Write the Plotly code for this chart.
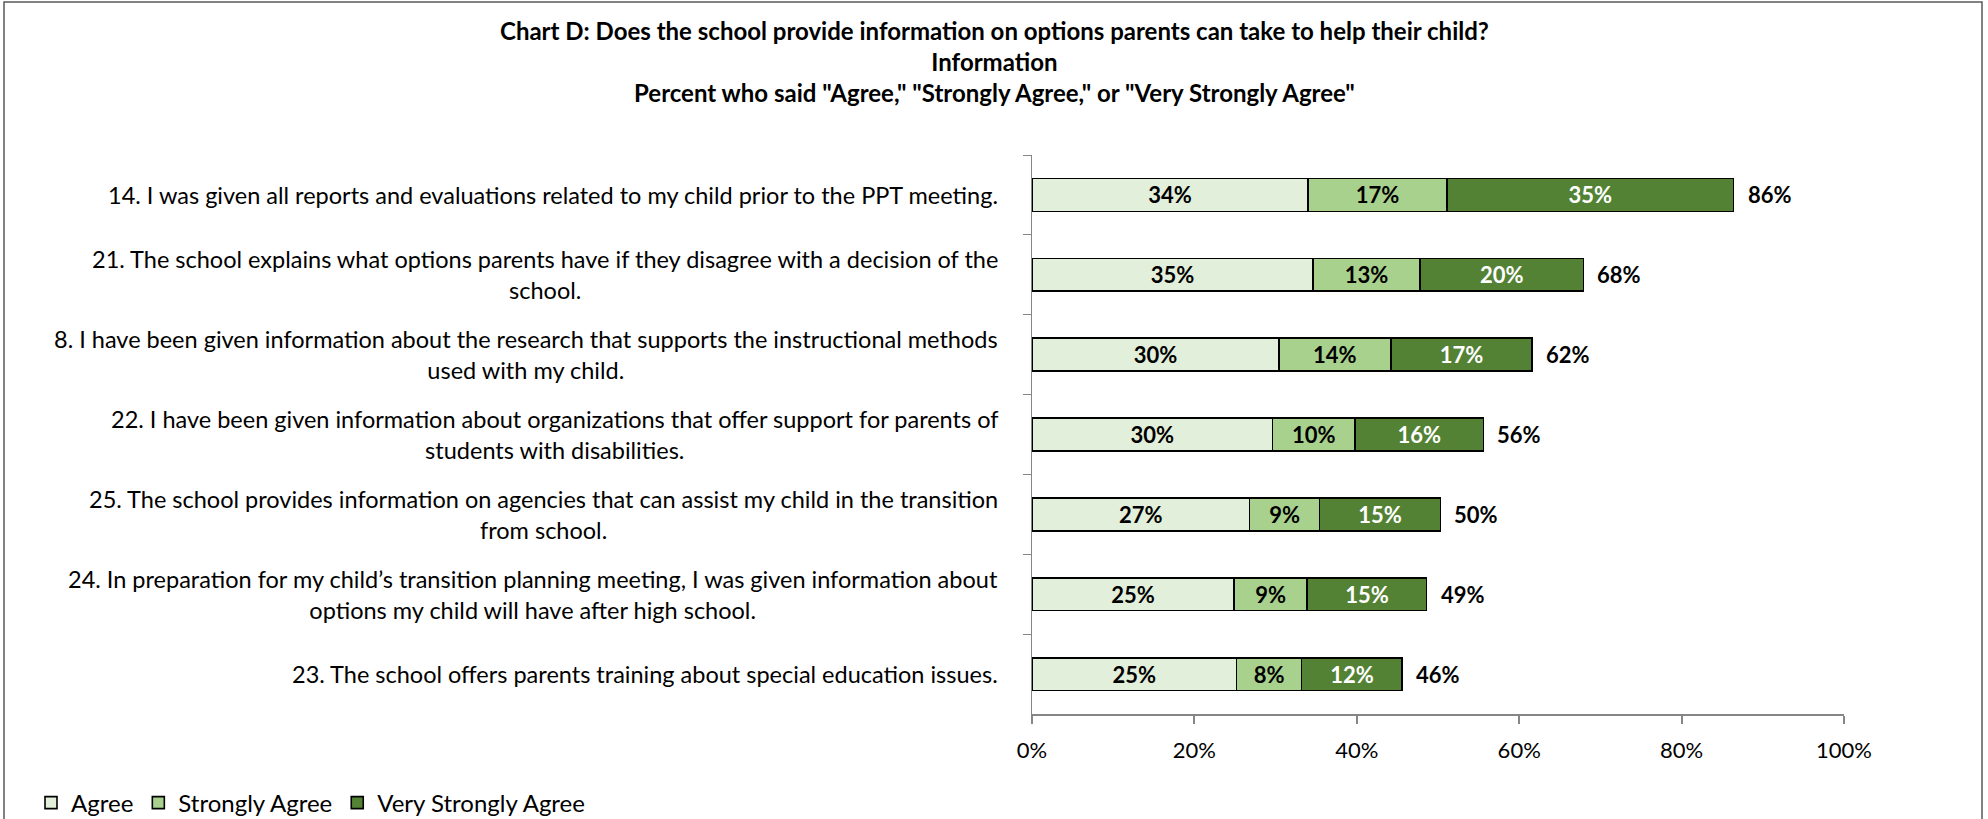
import plotly.graph_objects as go

# ---- data ----
categories = [
    "14. I was given all reports and evaluations related to my child prior to the PPT meeting.",
    "21. The school explains what options parents have if they disagree with a decision of the<br>school.",
    "8. I have been given information about the research that supports the instructional methods<br>used with my child.",
    "22. I have been given information about organizations that offer support for parents of<br>students with disabilities.",
    "25. The school provides information on agencies that can assist my child in the transition<br>from school.",
    "24. In preparation for my child\u2019s transition planning meeting, I was given information about<br>options my child will have after high school.",
    "23. The school offers parents training about special education issues.",
]
agree = [0.340, 0.346, 0.304, 0.296, 0.268, 0.249, 0.252]
strongly_agree = [0.171, 0.132, 0.138, 0.102, 0.086, 0.090, 0.080]
very_strongly_agree = [0.353, 0.201, 0.174, 0.158, 0.149, 0.147, 0.124]
series_names = ["Agree", "Strongly Agree", "Very Strongly Agree"]
colors = ["#E2EFDA", "#A9D18E", "#548235"]
text_colors = ["#000000", "#000000", "#FFFFFF"]
x_ticks = [0, 0.2, 0.4, 0.6, 0.8, 1.0]
title_lines = [
    "Chart D: Does the school provide information on options parents can take to help their child?",
    "Information",
    "Percent who said \"Agree,\" \"Strongly Agree,\" or \"Very Strongly Agree\"",
]

totals = [a + b + c for a, b, c in zip(agree, strongly_agree, very_strongly_agree)]

# ---- layout constants ----
W, H = 1988, 819
L, R, T, B = 1032, 144, 155, 105
FONT = "Lato, Arial, sans-serif"
FS = 22
pw = W - L - R
ph = H - T - B


def px_to_paper_x(px):
    return (px - L) / pw


def px_to_paper_y(py):
    return (H - B - py) / ph


fig = go.Figure()
for name, vals, col, tcol in zip(series_names, [agree, strongly_agree, very_strongly_agree], colors, text_colors):
    fig.add_trace(go.Bar(
        name=name, y=categories, x=vals, orientation="h",
        marker=dict(color=col, line=dict(color="#000000", width=1.6)),
        texttemplate="%{x:.0%}", textposition="inside", insidetextanchor="middle",
        textangle=0, constraintext="none",
        textfont=dict(family=FONT, size=FS, color=tcol, weight="bold"),
        hoverinfo="skip",
    ))

annotations = []
for cat, tot in zip(categories, totals):
    annotations.append(dict(
        x=tot, y=cat, xref="x", yref="y", text=f"{round(tot * 100):d}%",
        showarrow=False, xanchor="left", xshift=12,
        font=dict(family=FONT, size=FS, color="#000000", weight="bold"),
    ))
    annotations.append(dict(
        x=0, y=cat, xref="x", yref="y", text=cat, showarrow=False,
        xanchor="right", align="center", xshift=-32,
        font=dict(family=FONT, size=23.5, color="#000000"),
    ))

annotations.append(dict(
    x=px_to_paper_x(W / 2), y=px_to_paper_y(62), xref="paper", yref="paper",
    text="<br>".join(title_lines), showarrow=False, xanchor="center", yanchor="middle",
    align="center",
    font=dict(family=FONT, size=24, color="#000000", weight="bold"),
))

border = dict(
    type="rect", xref="paper", yref="paper", layer="above",
    x0=px_to_paper_x(4), x1=px_to_paper_x(1982),
    y0=px_to_paper_y(840), y1=px_to_paper_y(2),
    line=dict(color="#595959", width=1.5), fillcolor="rgba(0,0,0,0)",
)

fig.update_layout(
    width=W, height=H,
    margin=dict(l=L, r=R, t=T, b=B, pad=0),
    paper_bgcolor="#FFFFFF", plot_bgcolor="#FFFFFF",
    barmode="stack", bargap=0.59,
    font=dict(family=FONT, size=FS, color="#000000"),
    xaxis=dict(
        range=[0, 1], tickvals=x_ticks, tickformat=".0%", showgrid=False, zeroline=False,
        showline=True, linecolor="#868686", linewidth=2,
        ticks="outside", ticklen=8, tickwidth=1.5, tickcolor="#868686",
        tickfont=dict(family=FONT, size=FS, color="#000000"), ticklabelstandoff=8,
        fixedrange=True,
    ),
    yaxis=dict(
        type="category", autorange="reversed", showticklabels=False, showgrid=False,
        showline=True, linecolor="#868686", linewidth=1,
        ticks="outside", ticklen=8, tickwidth=1, tickcolor="#868686", tickson="boundaries",
        fixedrange=True,
    ),
    legend=dict(
        orientation="h", xref="container", yref="container",
        x=(45 - 14) / W, y=1 - 803 / H, xanchor="left", yanchor="middle",
        font=dict(family=FONT, size=24, color="#000000"), traceorder="normal",
        bgcolor="rgba(0,0,0,0)", itemwidth=30,
    ),
    annotations=annotations,
    shapes=[border],
    showlegend=True,
)

fig.write_html(
    "out.html",
    config={"displayModeBar": False},
    post_script="document.body.style.margin='0';document.body.style.overflow='hidden';",
)
